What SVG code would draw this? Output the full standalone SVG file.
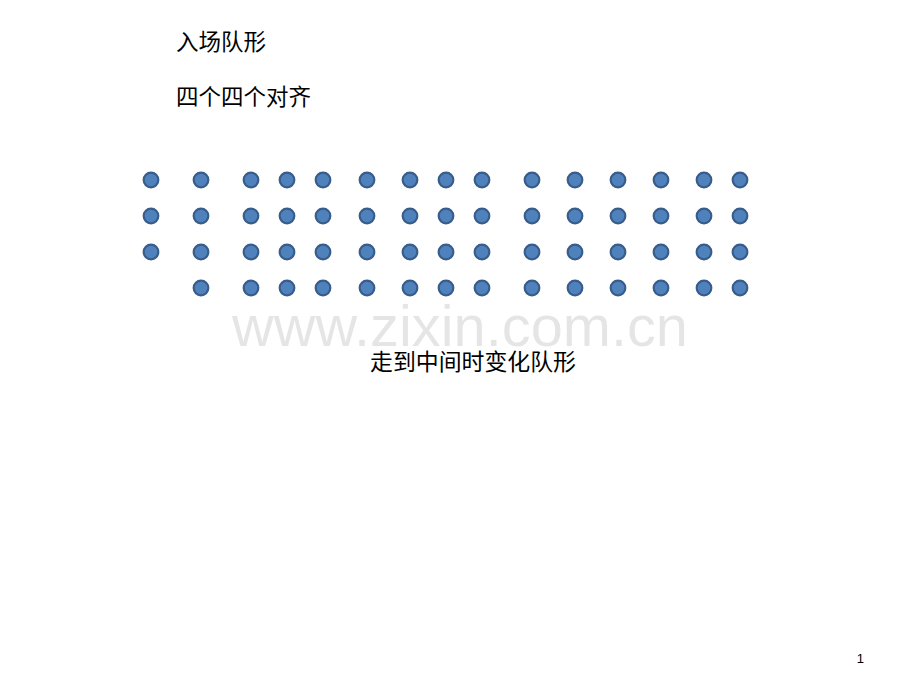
<svg xmlns="http://www.w3.org/2000/svg" width="920" height="690" viewBox="0 0 920 690">
<style>
.t{font-family:"Liberation Sans","Noto Sans CJK SC",sans-serif;font-size:22.5px;fill:#000}
.d{fill:#4F81BD;stroke:#385D8A;stroke-width:2.2}
.wm{font-family:"Liberation Sans",Arial,sans-serif;font-size:57px;fill:#000;fill-opacity:0.1}
</style>
<rect width="920" height="690" fill="#fff"/>
<text id="title1" class="t" x="176" y="50">入场队形</text>
<text id="title2" class="t" x="176" y="105">四个四个对齐</text>
<g id="dots">
<defs><circle id="c" r="7.3" class="d"/></defs>
<g id="col1"><use href="#c" x="151" y="180"/><use href="#c" x="151" y="216"/><use href="#c" x="151" y="252"/></g>
<g id="col2"><use href="#c" x="201" y="180"/><use href="#c" x="201" y="216"/><use href="#c" x="201" y="252"/><use href="#c" x="201" y="288"/></g>
<g id="col3"><use href="#c" x="251" y="180"/><use href="#c" x="251" y="216"/><use href="#c" x="251" y="252"/><use href="#c" x="251" y="288"/></g>
<g id="col4"><use href="#c" x="287" y="180"/><use href="#c" x="287" y="216"/><use href="#c" x="287" y="252"/><use href="#c" x="287" y="288"/></g>
<g id="col5"><use href="#c" x="323" y="180"/><use href="#c" x="323" y="216"/><use href="#c" x="323" y="252"/><use href="#c" x="323" y="288"/></g>
<g id="col6"><use href="#c" x="367" y="180"/><use href="#c" x="367" y="216"/><use href="#c" x="367" y="252"/><use href="#c" x="367" y="288"/></g>
<g id="col7"><use href="#c" x="410" y="180"/><use href="#c" x="410" y="216"/><use href="#c" x="410" y="252"/><use href="#c" x="410" y="288"/></g>
<g id="col8"><use href="#c" x="446" y="180"/><use href="#c" x="446" y="216"/><use href="#c" x="446" y="252"/><use href="#c" x="446" y="288"/></g>
<g id="col9"><use href="#c" x="482" y="180"/><use href="#c" x="482" y="216"/><use href="#c" x="482" y="252"/><use href="#c" x="482" y="288"/></g>
<g id="col10"><use href="#c" x="532" y="180"/><use href="#c" x="532" y="216"/><use href="#c" x="532" y="252"/><use href="#c" x="532" y="288"/></g>
<g id="col11"><use href="#c" x="575" y="180"/><use href="#c" x="575" y="216"/><use href="#c" x="575" y="252"/><use href="#c" x="575" y="288"/></g>
<g id="col12"><use href="#c" x="618" y="180"/><use href="#c" x="618" y="216"/><use href="#c" x="618" y="252"/><use href="#c" x="618" y="288"/></g>
<g id="col13"><use href="#c" x="661" y="180"/><use href="#c" x="661" y="216"/><use href="#c" x="661" y="252"/><use href="#c" x="661" y="288"/></g>
<g id="col14"><use href="#c" x="704" y="180"/><use href="#c" x="704" y="216"/><use href="#c" x="704" y="252"/><use href="#c" x="704" y="288"/></g>
<g id="col15"><use href="#c" x="740" y="180"/><use href="#c" x="740" y="216"/><use href="#c" x="740" y="252"/><use href="#c" x="740" y="288"/></g>
</g>
<text id="watermark" class="wm" x="232" y="346" textLength="456" lengthAdjust="spacingAndGlyphs">www.zixin.com.cn</text>
<text id="caption" class="t" x="370" y="370" textLength="206" lengthAdjust="spacingAndGlyphs">走到中间时变化队形</text>
<text id="page" x="864" y="663" text-anchor="end" style="font-family:'Liberation Sans',sans-serif;font-size:13px;fill:#000">1</text>
</svg>
